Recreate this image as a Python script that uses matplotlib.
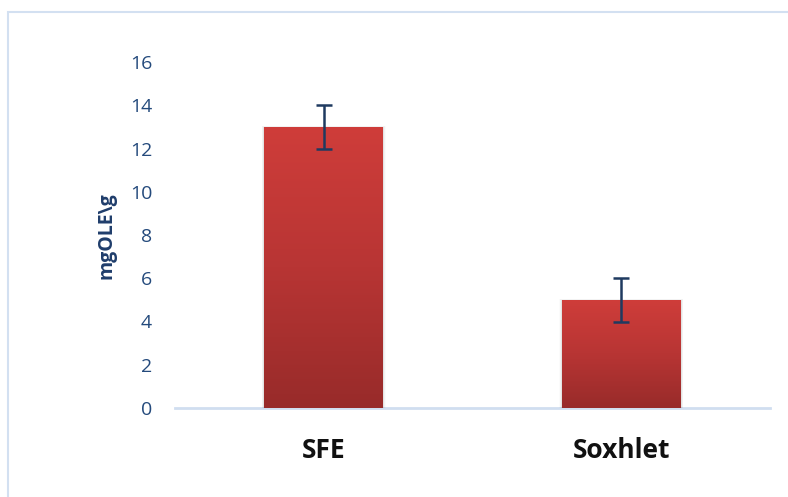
import numpy as np
import matplotlib
matplotlib.use("Agg")
import matplotlib.pyplot as plt
from matplotlib.patches import Rectangle
from matplotlib.colors import LinearSegmentedColormap

categories = ["SFE", "Soxhlet"]
values = [13, 5]
errors = [1, 1]
yticks = [0, 2, 4, 6, 8, 10, 12, 14, 16]
ylabel = "mgOLE\\g"

W, H = 788, 497
fig = plt.figure(figsize=(W / 100, H / 100), dpi=100)
fig.patch.set_facecolor("white")

# outer border (chart area frame)
fig.patches.append(Rectangle((8 / W, -0.05), 1.2, 1 - 12 / H + 0.05,
                             transform=fig.transFigure, fill=False,
                             edgecolor="#D3E0F1", linewidth=1.5, zorder=0))

ax = fig.add_axes([175 / W, 1 - 408 / H, (770 - 175) / W, (408 - 62) / H])
x = np.arange(len(categories))
ax.set_xlim(-0.5, len(categories) - 0.5)
ax.set_ylim(0, 16)

cmap = LinearSegmentedColormap.from_list("bar", ["#982B2A", "#B83534", "#CF3D3A"])
grad = np.linspace(0, 1, 256).reshape(-1, 1)

bars = ax.bar(x, values, width=0.4, color="none", edgecolor="none", zorder=3)
for b in bars:
    x0, w, h = b.get_x(), b.get_width(), b.get_height()
    # soft shadow
    for i, a in enumerate([0.06, 0.035, 0.015]):
        off = (i + 1) * 0.003
        ax.add_patch(Rectangle((x0 - off, 0.0), w + 2 * off, h + off * 3,
                               facecolor="#000000", alpha=a, edgecolor="none",
                               zorder=2, clip_on=False))
    im = ax.imshow(grad, extent=[x0, x0 + w, 0, h], origin="lower",
                   cmap=cmap, aspect="auto", zorder=3)
    im.set_clip_path(b)

ax.set_aspect("auto")
ax.errorbar(x, values, yerr=errors, fmt="none", ecolor="#1F3A60",
            elinewidth=1.8, capsize=6, capthick=1.8, zorder=5)

for s in ["top", "right", "left"]:
    ax.spines[s].set_visible(False)
ax.spines["bottom"].set_color("#D0DEF0")
ax.spines["bottom"].set_linewidth(2)
ax.spines["bottom"].set_zorder(1)

ax.set_yticks(yticks)
ax.set_yticklabels([str(t) for t in yticks], fontsize=14, color="#244A7C",
                   family="Open Sans")
ax.tick_params(axis="y", length=0, pad=16.5)
ax.set_xticks(x)
ax.set_xticklabels(categories, fontsize=19, fontweight="bold", color="#111111",
                   family="Open Sans")
ax.tick_params(axis="x", length=0, pad=21)

ax.set_ylabel(ylabel, fontsize=14, fontweight="bold", color="#1F3D6B",
              family="Open Sans")
ax.yaxis.set_label_coords(-0.0975, 0.497)

fig.savefig("out.png", dpi=100)
